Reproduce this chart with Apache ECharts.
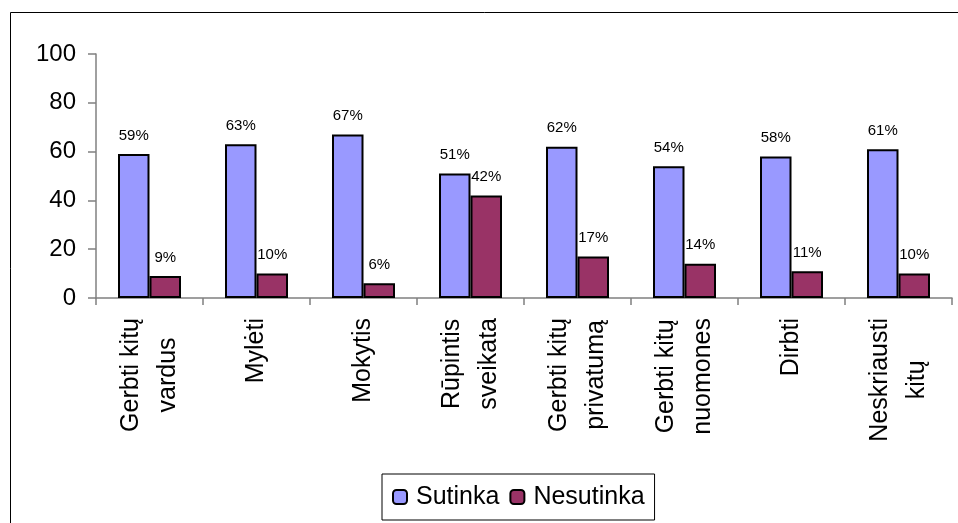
<!DOCTYPE html>
<html>
<head>
<meta charset="utf-8">
<script src="https://cdn.jsdelivr.net/npm/echarts@6/dist/echarts.min.js"></script>
<style>
html,body{margin:0;padding:0;background:#fff;}
#c{width:958px;height:523px;}
</style>
</head>
<body>
<div id="c"></div>
<script>
var categories = ['Gerbti kitų\nvardus', 'Mylėti', 'Mokytis', 'Rūpintis\nsveikata', 'Gerbti kitų\nprivatumą', 'Gerbti kitų\nnuomones', 'Dirbti', 'Neskriausti\nkitų'];
var sutinka = [59, 63, 67, 51, 62, 54, 58, 61];
var nesutinka = [9, 10, 6, 42, 17, 14, 11, 10];
var yTicks = [0, 20, 40, 60, 80, 100];

var FONT = '"Liberation Sans", Arial, sans-serif';
var chart = echarts.init(document.getElementById('c'), null, {renderer: 'canvas'});

function labelStyle() {
  return {
    show: true,
    position: 'top',
    distance: 11,
    formatter: '{c}%',
    fontFamily: FONT,
    fontSize: 15,
    color: '#000'
  };
}

chart.setOption({
  animation: false,
  backgroundColor: '#fff',
  graphic: [{
    type: 'rect',
    shape: {x: 10.5, y: 12.5, width: 960, height: 530},
    style: {fill: 'none', stroke: '#000', lineWidth: 1},
    silent: true,
    z: -1
  }],
  grid: {left: 96, right: 6, top: 54, bottom: 225, containLabel: false},
  legend: {
    left: 382,
    top: 474,
    padding: [10, 10, 10, 10],
    borderColor: '#000',
    borderWidth: 1,
    itemWidth: 14,
    itemHeight: 14,
    itemGap: 10,
    textStyle: {fontFamily: FONT, fontSize: 25, lineHeight: 26, color: '#000', padding: [0, 0, 0, 4]},
    data: ['Sutinka', 'Nesutinka']
  },
  xAxis: {
    type: 'category',
    data: categories,
    axisLine: {lineStyle: {color: '#808080', width: 1.5}},
    axisTick: {show: true, length: 7, lineStyle: {color: '#808080', width: 1.5}},
    axisLabel: {
      interval: 0,
      rotate: 90,
      margin: 20,
      formatter: function (v) {
        return v.split('\n').map(function (l) { return '{c|' + l + '}'; }).join('\n');
      },
      rich: {
        c: {align: 'center', fontFamily: FONT, fontSize: 25, lineHeight: 37, color: '#000'}
      }
    }
  },
  yAxis: {
    type: 'value',
    min: yTicks[0],
    max: yTicks[yTicks.length - 1],
    interval: 20,
    axisLine: {show: true, lineStyle: {color: '#808080', width: 1.5}},
    axisTick: {show: true, length: 8, lineStyle: {color: '#808080', width: 1.5}},
    splitLine: {show: false},
    axisLabel: {fontFamily: FONT, fontSize: 24, color: '#000', margin: 20}
  },
  series: [{
    name: 'Sutinka',
    type: 'bar',
    data: sutinka,
    barWidth: 31.5,
    barGap: '0%',
    itemStyle: {color: '#9999FF', borderColor: '#000', borderWidth: 2},
    label: labelStyle()
  }, {
    name: 'Nesutinka',
    type: 'bar',
    data: nesutinka,
    barWidth: 31.5,
    barGap: '0%',
    itemStyle: {color: '#993366', borderColor: '#000', borderWidth: 2},
    label: labelStyle()
  }]
});
</script>
</body>
</html>
